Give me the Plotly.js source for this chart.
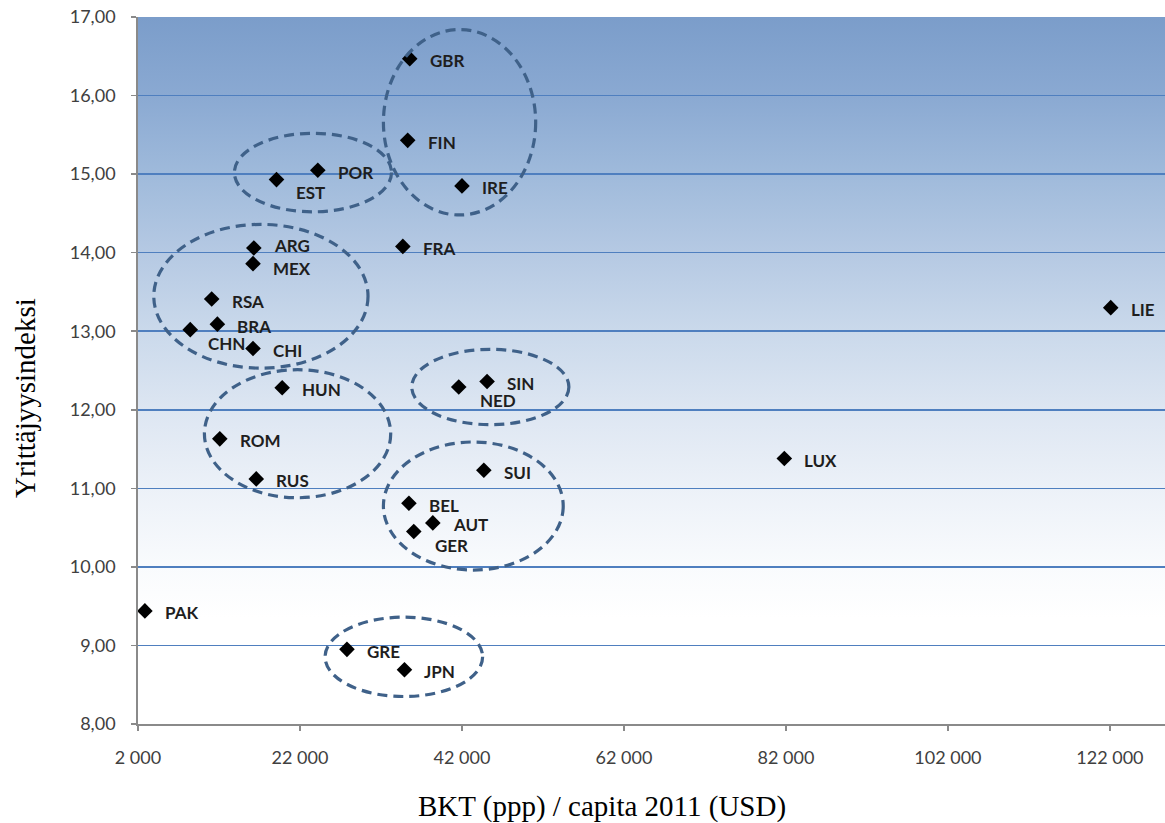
<!DOCTYPE html>
<html><head><meta charset="utf-8">
<script src="https://cdn.plot.ly/plotly-3.0.1.min.js"></script>
<style>html,body{margin:0;padding:0;background:#fff}#chart{width:1165px;height:823px}</style>
</head><body><div id="chart"></div>
<script>
// ---- data ----
const countries = ["PAK","CHN","RSA","BRA","ROM","MEX","CHI","ARG","RUS","EST","HUN","POR","GRE","FRA","JPN","FIN","BEL","GBR","GER","AUT","NED","IRE","SUI","SIN","LUX","LIE"];
const gdpPerCapita = [2850,8450,11100,11800,12100,16200,16200,16300,16600,19100,19800,24200,27800,34700,34900,35300,35450,35550,36050,38400,41600,42000,44700,45100,81800,122100];
const entrepreneurshipIndex = [9.44,13.02,13.41,13.09,11.63,13.86,12.78,14.06,11.12,14.93,12.28,15.05,8.95,14.08,8.69,15.43,10.81,16.47,10.45,10.56,12.29,14.85,11.23,12.36,11.38,13.30];
const xTickValues = [2000,22000,42000,62000,82000,102000,122000];
const yTickValues = [8,9,10,11,12,13,14,15,16,17];
const xTitle = "BKT (ppp) / capita 2011 (USD)";
const yTitle = "Yrittäjyysindeksi";
// dashed cluster outlines (data units)
const clusterX0 = [13900,32300,3950,10200,35800,32300,25100];
const clusterX1 = [33300,51100,30400,33200,55200,54500,44550];
const clusterY0 = [14.52,14.48,12.53,10.88,11.81,9.96,8.35];
const clusterY1 = [15.52,16.84,14.36,12.51,12.77,11.59,9.36];

// ---- styling ----
const labelNudge = {EST:[18,-13], NED:[20,-13], CHN:[17,-14], GER:[20,-14], ARG:[19,2], MEX:[19,-5]};
const defaultNudge = [19,-2];

const svg = "<svg xmlns='http://www.w3.org/2000/svg' width='100' height='100' viewBox='0 0 100 100' preserveAspectRatio='none'>" +
  "<defs><linearGradient id='g' x1='0' y1='0' x2='0' y2='1'>" +
  "<stop offset='0' stop-color='#7b9dca'/>" +
  "<stop offset='0.111' stop-color='#8aa9d2'/>" +
  "<stop offset='0.222' stop-color='#9fbadb'/>" +
  "<stop offset='0.333' stop-color='#b5c9e3'/>" +
  "<stop offset='0.444' stop-color='#cad9eb'/>" +
  "<stop offset='0.556' stop-color='#dde6f2'/>" +
  "<stop offset='0.667' stop-color='#ecf1f8'/>" +
  "<stop offset='0.778' stop-color='#f9fbfd'/>" +
  "<stop offset='0.85' stop-color='#ffffff'/>" +
  "<stop offset='1' stop-color='#ffffff'/>" +
  "</linearGradient></defs><rect x='0' y='0' width='100' height='100' fill='url(#g)'/></svg>";
const bgSource = "data:image/svg+xml;charset=utf-8," + encodeURIComponent(svg);

const trace = {
  type: "scatter", mode: "markers",
  x: gdpPerCapita, y: entrepreneurshipIndex, text: countries,
  marker: {symbol: "diamond", size: 12, color: "#000000", line: {width: 0}},
  hoverinfo: "text+x+y", cliponaxis: false
};

const annotations = countries.map((c, i) => {
  const n = labelNudge[c] || defaultNudge;
  return {
    x: gdpPerCapita[i], y: entrepreneurshipIndex[i], xref: "x", yref: "y",
    text: c, showarrow: false, xanchor: "left", yanchor: "middle",
    xshift: n[0], yshift: n[1], borderpad: 0,
    font: {family: "Lato, 'Open Sans', sans-serif", size: 17, color: "#1e1e1e", weight: 700}
  };
});
annotations.push({
  xref: "paper", yref: "paper", x: (602 - 138) / 1027, y: (724 - 806) / 707,
  xanchor: "center", yanchor: "middle", showarrow: false, text: xTitle,
  font: {family: "'Liberation Serif', 'Times New Roman', serif", size: 29, color: "#000"}
});
annotations.push({
  xref: "paper", yref: "paper", x: (25 - 138) / 1027, y: (724 - 398) / 707,
  xanchor: "center", yanchor: "middle", showarrow: false, text: yTitle, textangle: -90,
  font: {family: "'Liberation Serif', 'Times New Roman', serif", size: 29, color: "#000"}
});

const shapes = clusterX0.map((x0, i) => ({
  type: "circle", xref: "x", yref: "y", layer: "above",
  x0: x0, x1: clusterX1[i], y0: clusterY0[i], y1: clusterY1[i],
  line: {color: "#3f6189", width: 3.2, dash: "10px,6px"}, fillcolor: "rgba(0,0,0,0)"
}));

const tickFont = {family: "Lato, 'Open Sans', sans-serif", size: 18, color: "#404040"};

const layout = {
  width: 1165, height: 823,
  margin: {l: 138, r: 0, t: 17, b: 99},
  paper_bgcolor: "#ffffff", plot_bgcolor: "rgba(0,0,0,0)",
  separators: ", ",
  showlegend: false,
  images: [{source: bgSource, xref: "paper", yref: "paper", x: 0, y: 1, sizex: 1, sizey: 1,
            xanchor: "left", yanchor: "top", sizing: "stretch", layer: "below"}],
  xaxis: {
    range: [2000, 128800], tickvals: xTickValues, tickformat: ",d",
    ticks: "outside", ticklen: 5, tickwidth: 1.5, tickcolor: "#8a8a8a",
    showline: true, linecolor: "#8a8a8a", linewidth: 1.8,
    showgrid: false, zeroline: false, tickfont: tickFont, ticklabelstandoff: 12
  },
  yaxis: {
    range: [8, 17], tickvals: yTickValues, tickformat: ".2f",
    ticks: "outside", ticklen: 5, tickwidth: 1.5, tickcolor: "#8a8a8a",
    showline: true, linecolor: "#8a8a8a", linewidth: 1.8,
    showgrid: true, gridcolor: "#4f7fbf", gridwidth: 1.5,
    zeroline: false, tickfont: tickFont, ticklabelstandoff: 12
  },
  shapes: shapes,
  annotations: annotations
};

Plotly.newPlot("chart", [trace], layout, {displayModeBar: false, staticPlot: true});
</script>
</body></html>
